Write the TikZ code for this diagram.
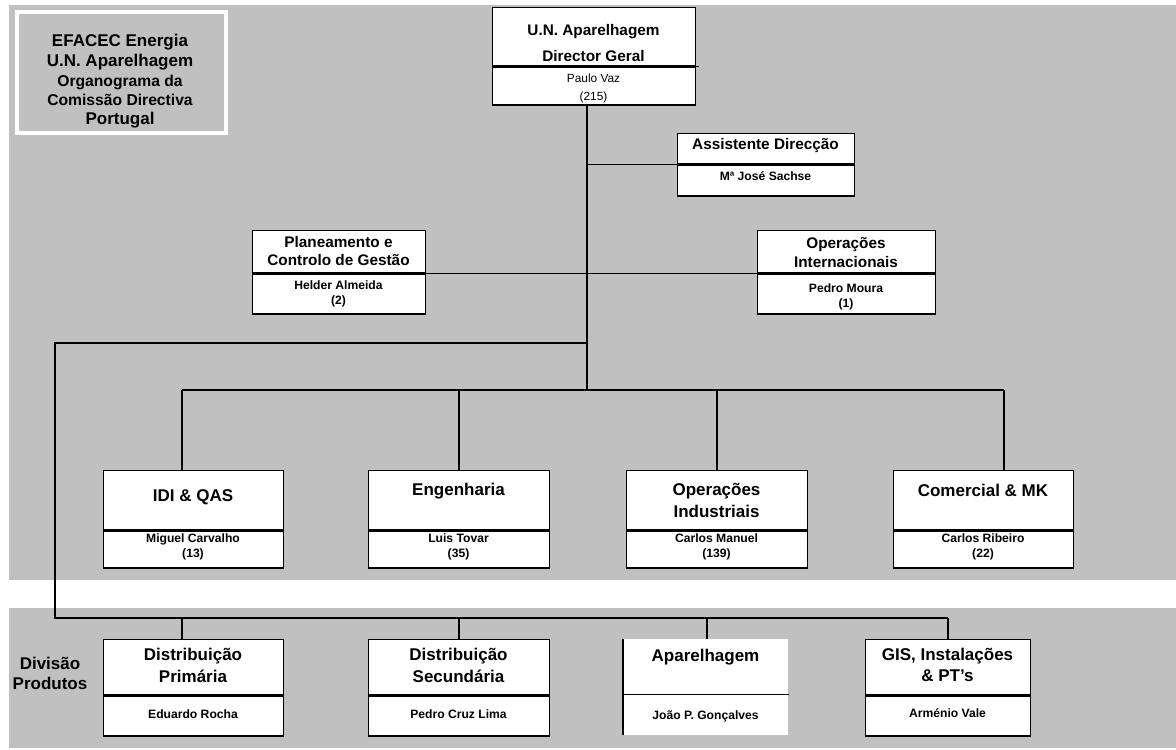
\documentclass[tikz,border=0pt]{standalone}
\usepackage{fontspec}
\setmainfont{Liberation Sans}
\definecolor{panel}{RGB}{192,192,192}
% one header section plus one name section, stacked
% #1 name, #2 x, #3 y, #4 width, #5 header height, #6 name height, #7 style
\newcommand\orgbox[7]{%
  \node[#7, minimum width=#4*0.75pt, minimum height=#5*0.75pt] (#1) at (#2,#3) {};
  \node[#7, minimum width=#4*0.75pt, minimum height=#6*0.75pt] (#1n) at (#1.south west) {};
}
\begin{document}
\begin{tikzpicture}[x=0.75pt,y=-0.75pt,
  box/.style={draw=black, line width=1.1pt, fill=white, inner sep=0pt, anchor=north west},
  openbox/.style={draw=none, fill=white, inner sep=0pt, anchor=north west},
  edge/.style={draw=black, line width=1.1pt},
  link/.style={draw=black, line width=1.05pt},
  txt/.style={inner sep=0pt, anchor=base},
  big/.style={txt, font=\bfseries\fontsize{12.75}{15}\selectfont},
  mid/.style={txt, font=\bfseries\fontsize{11.5}{14}\selectfont},
  ttl/.style={txt, font=\bfseries\fontsize{11.75}{14}\selectfont},
  who/.style={txt, font=\bfseries\fontsize{9.1}{11}\selectfont},
  whoreg/.style={txt, font=\fontsize{8.9}{11}\selectfont},
]
\useasboundingbox (0,0) rectangle (1176,749);
\fill[white] (0,0) rectangle (1176,749);

% background panels
\fill[panel] (9,5) rectangle (1176,580);
\fill[panel] (9,608) rectangle (1176,748);

% title block
\node[draw=white, line width=3pt, fill=panel, inner sep=0pt, anchor=north west,
      minimum width=209*0.75pt, minimum height=121*0.75pt] (title) at (15,10) {};
\node[big] (title1) at (120,46.5) {EFACEC Energia};
\node[big] (title2) at (120,66) {U.N. Aparelhagem};
\node[ttl] (title3) at (120,86) {Organograma da};
\node[ttl] (title4) at (120,105.5) {Comissão Directiva};
\node[big] (title5) at (120,124) {Portugal};

% boxes
\orgbox{dg}{492}{7}{203}{58}{38}{box}
\orgbox{asst}{677}{133}{177}{30}{31}{box}
\orgbox{plan}{252}{230}{173}{42}{40}{box}
\orgbox{opi}{757}{230}{178}{42}{40}{box}
\orgbox{idi}{103}{470}{180}{59}{37}{box}
\orgbox{eng}{368}{470}{181}{59}{37}{box}
\orgbox{opind}{626}{470}{181}{59}{37}{box}
\orgbox{com}{893}{470}{180}{59}{37}{box}
\orgbox{dp}{103}{639}{180}{55}{40}{box}
\orgbox{ds}{368}{639}{181}{55}{40}{box}
\orgbox{ap}{623}{639}{165}{55}{40}{openbox}
\orgbox{gis}{865}{639}{165}{55}{40}{box}
\draw[edge] (ap.north west) -- (apn.south west);
\draw[edge] (apn.north west) -- (apn.north east);
\draw[edge] (dgn.north east) -- ++(3,0);

% connector junctions
\coordinate (t0) at (587,103);
\coordinate (t1) at (587,343);
\coordinate (t2) at (587,390);
\coordinate (w1) at (55,343);
\coordinate (w2) at (55,618);
\coordinate (m1) at (182,390);
\coordinate (m2) at (459,390);
\coordinate (m3) at (717,390);
\coordinate (m4) at (1004,390);
\coordinate (b1) at (182,618);
\coordinate (b2) at (459,618);
\coordinate (b3) at (707,618);
\coordinate (b4) at (948,618);

% connectors
\draw[link] (dgn.south -| t0) -- (t2);
\draw[link] (asst.south west -| t0) -- (asst.south west);
\draw[link] (plan.south east) -- (opi.south west);
\draw[link] (t1) -- (w1) -- (w2) -- (b4);
\draw[link] (m1) -- (m4);
\draw[link] (m1) -- (m1 |- idi.north);
\draw[link] (m2) -- (m2 |- eng.north);
\draw[link] (m3) -- (m3 |- opind.north);
\draw[link] (m4) -- (m4 |- com.north);
\draw[link] (b1) -- (b1 |- dp.north);
\draw[link] (b2) -- (b2 |- ds.north);
\draw[link] (b3) -- (b3 |- ap.north);
\draw[link] (b4) -- (b4 |- gis.north);

% texts
\node[mid] (dg1) at (593.5,36) {U.N. Aparelhagem};
\node[mid] (dg2) at (593.5,62) {Director Geral};
\node[whoreg] (dg3) at (593.5,83) {Paulo Vaz};
\node[whoreg] (dg4) at (593.5,100) {(215)};

\node[mid] (asst1) at (765.5,149.5) {Assistente Direcção};
\node[who] (asst2) at (765.5,180) {Mª José Sachse};

\node[mid] (plan1) at (338.5,247) {Planeamento e};
\node[mid] (plan2) at (338.5,265) {Controlo de Gestão};
\node[who] (plan3) at (338.5,289) {Helder Almeida};
\node[who] (plan4) at (338.5,304) {(2)};

\node[mid] (opi1) at (846,248) {Operações};
\node[mid] (opi2) at (846,267) {Internacionais};
\node[who] (opi3) at (846,292) {Pedro Moura};
\node[who] (opi4) at (846,307) {(1)};

\node[big] (idi1) at (193,501) {IDI \& QAS};
\node[who] (idi2) at (193,542) {Miguel Carvalho};
\node[who] (idi3) at (193,557) {(13)};

\node[big] (eng1) at (458.5,495) {Engenharia};
\node[who] (eng2) at (458.5,542) {Luis Tovar};
\node[who] (eng3) at (458.5,557) {(35)};

\node[big] (opind1) at (716.5,495) {Operações};
\node[big] (opind2) at (716.5,517) {Industriais};
\node[who] (opind3) at (716.5,542) {Carlos Manuel};
\node[who] (opind4) at (716.5,557) {(139)};

\node[big] (com1) at (983,496) {Comercial \& MK};
\node[who] (com2) at (983,542) {Carlos Ribeiro};
\node[who] (com3) at (983,557) {(22)};

\node[big] (div1) at (50,669) {Divisão};
\node[big] (div2) at (50,689) {Produtos};

\node[big] (dp1) at (193,660) {Distribuição};
\node[big] (dp2) at (193,682) {Primária};
\node[who] (dp3) at (193,718) {Eduardo Rocha};

\node[big] (ds1) at (458.5,660) {Distribuição};
\node[big] (ds2) at (458.5,682) {Secundária};
\node[who] (ds3) at (458.5,718) {Pedro Cruz Lima};

\node[big] (ap1) at (705.5,661) {Aparelhagem};
\node[who] (ap2) at (705.5,719) {João P. Gonçalves};

\node[big] (gis1) at (947.5,660) {GIS, Instalações};
\node[big] (gis2) at (947.5,681) {\& PT's};
\node[who] (gis3) at (947.5,717) {Arménio Vale};
\end{tikzpicture}
\end{document}
